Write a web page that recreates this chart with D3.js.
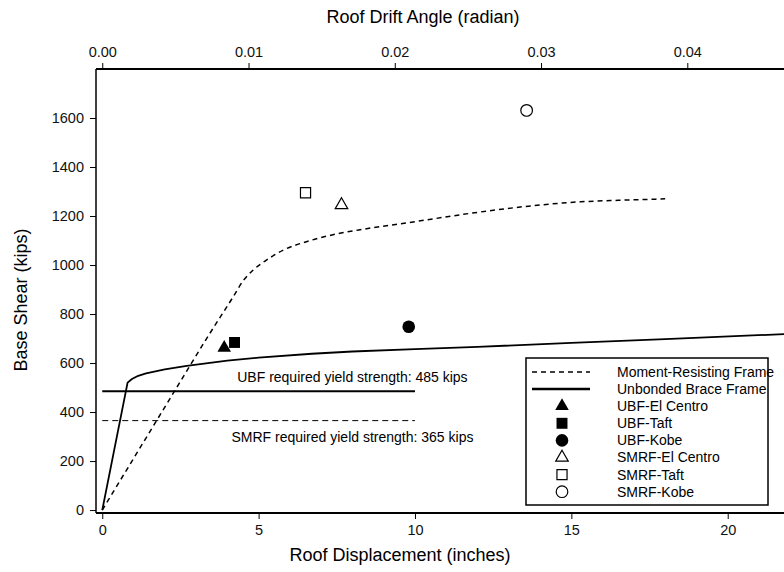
<!DOCTYPE html>
<html>
<head>
<meta charset="utf-8">
<script src="https://cdn.jsdelivr.net/npm/d3@7"></script>
<style>
  body { margin: 0; background: #fff; }
  svg { font-family: Arial, "Liberation Sans", sans-serif; }
</style>
</head>
<body>
<svg id="chart" width="784" height="572"></svg>
<script>

// pushover curves (roof displacement in inches, base shear in kips)
var smrfCurve = [[0,0],[2,420],[3.44,721],[4.19,871],[4.5,935],[4.83,980],[5.26,1021],[5.79,1061],[6.6,1098],[7.5,1127],[8.2,1143],[10,1177],[12,1215],[14,1245],[15.3,1258],[16.5,1264],[18,1270]];
var ubfCurve = [[0,0],[0.81,520],[0.95,535],[1.15,548],[1.4,558],[2,574],[2.7,588],[4,610],[5,622],[6.7,638],[8,647],[10,657],[12,666],[15,682],[18,698],[21.8,718]];

// time history peaks
var pointNames = ["UBF-El Centro", "UBF-Taft", "UBF-Kobe", "SMRF-El Centro", "SMRF-Taft", "SMRF-Kobe"];
var pointDisp = [3.9, 4.23, 9.8, 7.65, 6.5, 13.57];
var pointShear = [662, 684, 748, 1245, 1295, 1631];
var pointShapes = ["triangle", "square", "circle", "triangle", "square", "circle"];
var pointFilled = [true, true, true, false, false, false];

// required yield strengths
var ubfRequired = 485;
var smrfRequired = 365;
var requiredEnd = 10;

// tick labels
var xTicks = [0, 5, 10, 15, 20];
var yTicks = [0, 200, 400, 600, 800, 1000, 1200, 1400, 1600];
var driftTicks = [0, 0.01, 0.02, 0.03, 0.04];
var roofHeight = 467.7; // inches, drift = disp / height

var svg = d3.select("#chart");
const width = 784, height = 572;
const margin = { top: 69, right: 0, bottom: 59, left: 96 };

var xScale = d3.scaleLinear().domain([-0.2, 21.8]).range([margin.left, width - margin.right]);
var yScale = d3.scaleLinear().domain([-12, 1800]).range([height - margin.bottom, margin.top]);
var driftScale = d3.scaleLinear()
    .domain([-0.2 / roofHeight, 21.8 / roofHeight])
    .range([margin.left, width - margin.right]);

// axes
var xAxis = svg.append("g")
    .attr("transform", `translate(0,${height - margin.bottom})`)
    .call(d3.axisBottom(xScale).tickValues(xTicks).tickSize(6).tickPadding(6).tickFormat(d3.format("d")));
var yAxis = svg.append("g")
    .attr("transform", `translate(${margin.left},0)`)
    .call(d3.axisLeft(yScale).tickValues(yTicks).tickSize(6).tickPadding(6).tickFormat(d3.format("d")));
var topAxis = svg.append("g")
    .attr("transform", `translate(0,${margin.top})`)
    .call(d3.axisTop(driftScale).tickValues(driftTicks).tickSize(6).tickPadding(6).tickFormat(d3.format(".2f")));

[xAxis, yAxis, topAxis].forEach(function (ax) {
    ax.selectAll("text").style("font-size", "14.5px").style("font-family", "Arial, 'Liberation Sans', sans-serif").attr("fill", "#111");
    ax.selectAll("line").attr("stroke", "#000");
    ax.select(".domain").attr("stroke", "#000").attr("stroke-width", 2);
});
// no end ticks on domain path
xAxis.select(".domain").attr("d", `M${margin.left},0H${width}`);
topAxis.select(".domain").attr("d", `M${margin.left},0H${width}`);
yAxis.select(".domain").attr("d", `M0,${margin.top}V${height - margin.bottom}`).attr("stroke-width", 1.5);

// axis titles
svg.append("text")
    .attr("x", 400).attr("y", 561)
    .style("text-anchor", "middle").style("font-size", "18px")
    .text("Roof Displacement (inches)");
svg.append("text")
    .attr("x", 423).attr("y", 23)
    .style("text-anchor", "middle").style("font-size", "18px")
    .text("Roof Drift Angle (radian)");
svg.append("text")
    .attr("transform", "rotate(-90)")
    .attr("x", -300).attr("y", 27)
    .style("text-anchor", "middle").style("font-size", "18px")
    .text("Base Shear (kips)");

// curves
var smrfLine = d3.line()
    .x(d => xScale(d[0]))
    .y(d => yScale(d[1]))
    .curve(d3.curveMonotoneX);
var ubfLine = d3.line()
    .x(d => xScale(d[0]))
    .y(d => yScale(d[1]));

svg.append("path")
    .datum(smrfCurve)
    .attr("fill", "none").attr("stroke", "#000").attr("stroke-width", 1.5)
    .attr("stroke-dasharray", "5,4")
    .attr("d", smrfLine);
svg.append("path")
    .datum(ubfCurve)
    .attr("fill", "none").attr("stroke", "#000").attr("stroke-width", 1.8)
    .attr("stroke-linejoin", "round")
    .attr("d", ubfLine);

// required strength lines
svg.append("line")
    .attr("x1", xScale(0)).attr("x2", xScale(requiredEnd))
    .attr("y1", yScale(ubfRequired)).attr("y2", yScale(ubfRequired))
    .attr("stroke", "#000").attr("stroke-width", 2);
svg.append("line")
    .attr("x1", xScale(0)).attr("x2", xScale(requiredEnd))
    .attr("y1", yScale(smrfRequired)).attr("y2", yScale(smrfRequired))
    .attr("stroke", "#000").attr("stroke-width", 1).attr("stroke-dasharray", "6,4");

svg.append("text")
    .attr("x", xScale(8)).attr("y", yScale(ubfRequired) - 9)
    .style("text-anchor", "middle").style("font-size", "14px")
    .text("UBF required yield strength: " + ubfRequired + " kips");
svg.append("text")
    .attr("x", xScale(8)).attr("y", yScale(smrfRequired) + 21)
    .style("text-anchor", "middle").style("font-size", "14px")
    .text("SMRF required yield strength: " + smrfRequired + " kips");

// markers
var shapeType = { triangle: d3.symbolTriangle, square: d3.symbolSquare, circle: d3.symbolCircle };
function symbolPath(shape, filled) {
    var size = shape === "triangle" ? 80 : (shape === "square" ? 120 : 125);
    if (!filled) size = size * 0.85;
    return d3.symbol().type(shapeType[shape]).size(size)();
}

svg.selectAll(".peak")
    .data(pointNames)
    .enter()
    .append("path")
    .attr("class", "peak")
    .attr("transform", (d, i) => `translate(${xScale(pointDisp[i])},${yScale(pointShear[i])})`)
    .attr("d", (d, i) => symbolPath(pointShapes[i], pointFilled[i]))
    .attr("fill", (d, i) => pointFilled[i] ? "#000" : "#fff")
    .attr("stroke", "#000")
    .attr("stroke-width", (d, i) => pointFilled[i] ? 0 : 1.2);

// Legend
var legendItems = ["Moment-Resisting Frame", "Unbonded Brace Frame"].concat(pointNames);
var legend = svg.append("g").attr("transform", "translate(526,358)");
legend.append("rect")
    .attr("width", 242).attr("height", 147)
    .attr("fill", "#fff").attr("stroke", "#000").attr("stroke-width", 1.5);

legend.selectAll(".legend-item")
    .data(legendItems)
    .enter()
    .append("g")
    .attr("class", "legend-item")
    .attr("transform", (d, i) => `translate(0, ${14 + i * 17.1})`)
    .each(function (d, i) {
        var g = d3.select(this);
        if (i < 2) {
            g.append("line")
                .attr("x1", 6).attr("x2", 64)
                .attr("stroke", "#000")
                .attr("stroke-width", i === 0 ? 1.5 : 2.5)
                .attr("stroke-dasharray", i === 0 ? "5,4" : null);
        } else {
            var k = i - 2;
            g.append("path")
                .attr("transform", "translate(36,0)")
                .attr("d", symbolPath(pointShapes[k], pointFilled[k]))
                .attr("fill", pointFilled[k] ? "#000" : "#fff")
                .attr("stroke", "#000")
                .attr("stroke-width", pointFilled[k] ? 0 : 1.2);
        }
        g.append("text")
            .attr("x", 91)
            .attr("dy", ".35em")
            .style("font-size", "14px")
            .text(d);
    });

</script>
</body>
</html>
